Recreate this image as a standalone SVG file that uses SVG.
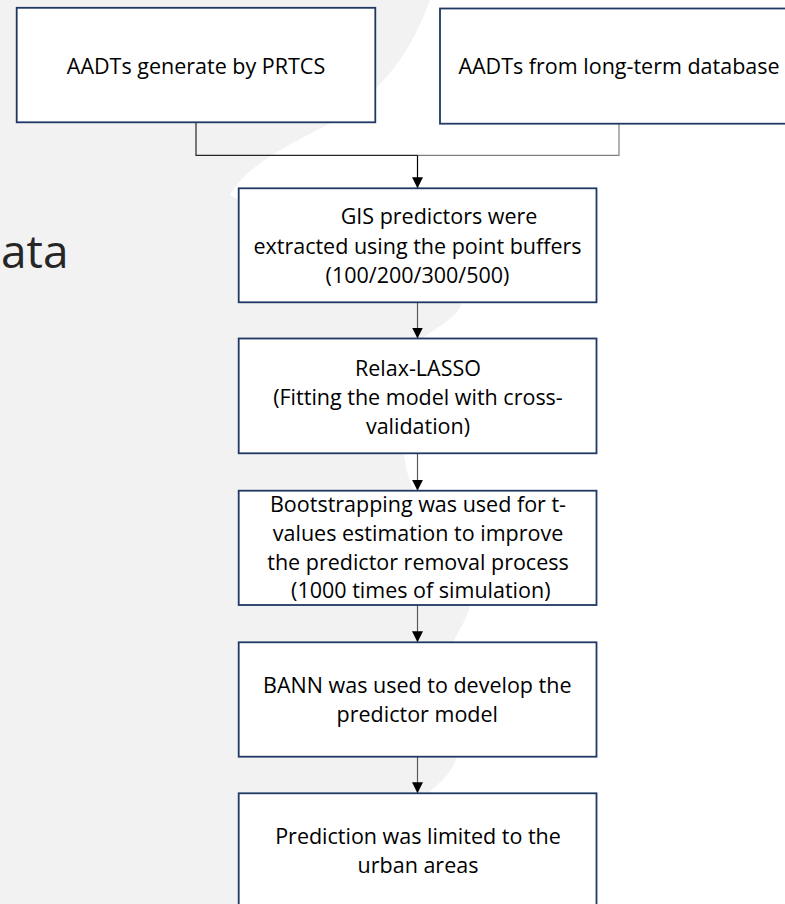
<svg xmlns="http://www.w3.org/2000/svg" width="785" height="904" viewBox="0 0 785 904">
<defs>
<style>
.box{fill:#fff;stroke:#1f3864;stroke-width:1.8}
.t{font-family:"Open Sans","Noto Sans","Liberation Sans",sans-serif;font-size:21.5px;fill:#000;text-anchor:middle}
.ln{fill:none;stroke:#595959;stroke-width:1.2}
</style>
<marker id="ah" viewBox="0 0 11 11" markerWidth="11" markerHeight="11" refX="11" refY="5.5" orient="auto" markerUnits="userSpaceOnUse">
<path d="M0,0 L11,5.5 L0,11 Z" fill="#000"/>
</marker>
</defs>
<rect width="785" height="904" fill="#fff"/>
<path d="M0,0 H430 C415,40 395,80 340,118 C300,140 250,160 230,195 C300,240 470,250 462,303 C455,322 428,330 420,342 C404,380 398,430 405,460 C412,520 478,565 470,606 C465,625 455,634 453,645 C450,700 462,735 457,757 C450,778 432,788 427,795 C405,840 395,875 392,904 H0 Z" fill="#f2f2f2"/>
<text x="1" y="268" style="font-family:'Open Sans','Noto Sans',sans-serif;font-size:46px;fill:#262626">ata</text>
<g id="connectors">
<path d="M196,122.3 V155.3 H417.5" fill="none" stroke="#262626" stroke-width="1.2"/>
<path d="M619,123.7 V155.3 H417.5" fill="none" stroke="#808080" stroke-width="1.2"/>
<path d="M417.5,155.3 V188.3" fill="none" stroke="#000" stroke-width="1.2" marker-end="url(#ah)"/>
<path class="ln" d="M417.5,302.3 V338.5" marker-end="url(#ah)"/>
<path class="ln" d="M417.5,453.3 V490.7" marker-end="url(#ah)"/>
<path class="ln" d="M417.5,605 V642.3" marker-end="url(#ah)"/>
<path class="ln" d="M417.5,756.7 V793.3" marker-end="url(#ah)"/>
</g>
<g id="n1">
<rect class="box" x="16.7" y="7.8" width="358.6" height="114.5"/>
<text class="t" x="196" y="74">AADTs generate by PRTCS</text>
</g>
<g id="n2">
<rect class="box" x="440" y="8.5" width="358.6" height="115.2"/>
<text class="t" x="619" y="74">AADTs from long-term database</text>
</g>
<g id="n3">
<rect class="box" x="238.7" y="188.3" width="357.8" height="114"/>
<text class="t" x="439" y="224.3">GIS predictors were</text>
<text class="t" x="417.5" y="253.8">extracted using the point buffers</text>
<text class="t" x="417.5" y="283.3">(100/200/300/500)</text>
</g>
<g id="n4">
<rect class="box" x="238.7" y="338.5" width="357.8" height="114.8"/>
<text class="t" x="418" y="376">Relax-LASSO</text>
<text class="t" x="418" y="405">(Fitting the model with cross-</text>
<text class="t" x="418" y="434">validation)</text>
</g>
<g id="n5">
<rect class="box" x="238.7" y="490.7" width="357.8" height="114.3"/>
<text class="t" x="418" y="511.7">Bootstrapping was used for t-</text>
<text class="t" x="418" y="540.7">values estimation to improve</text>
<text class="t" x="418" y="569.5">the predictor removal process</text>
<text class="t" x="420.8" y="598.3">(1000 times of simulation)</text>
</g>
<g id="n6">
<rect class="box" x="238.7" y="642.3" width="357.8" height="114.4"/>
<text class="t" x="417.3" y="692.7">BANN was used to develop the</text>
<text class="t" x="417.3" y="721.7">predictor model</text>
</g>
<g id="n7">
<rect class="box" x="238.7" y="793.3" width="357.8" height="114.4"/>
<text class="t" x="418" y="844.3">Prediction was limited to the</text>
<text class="t" x="418" y="873.3">urban areas</text>
</g>
</svg>
